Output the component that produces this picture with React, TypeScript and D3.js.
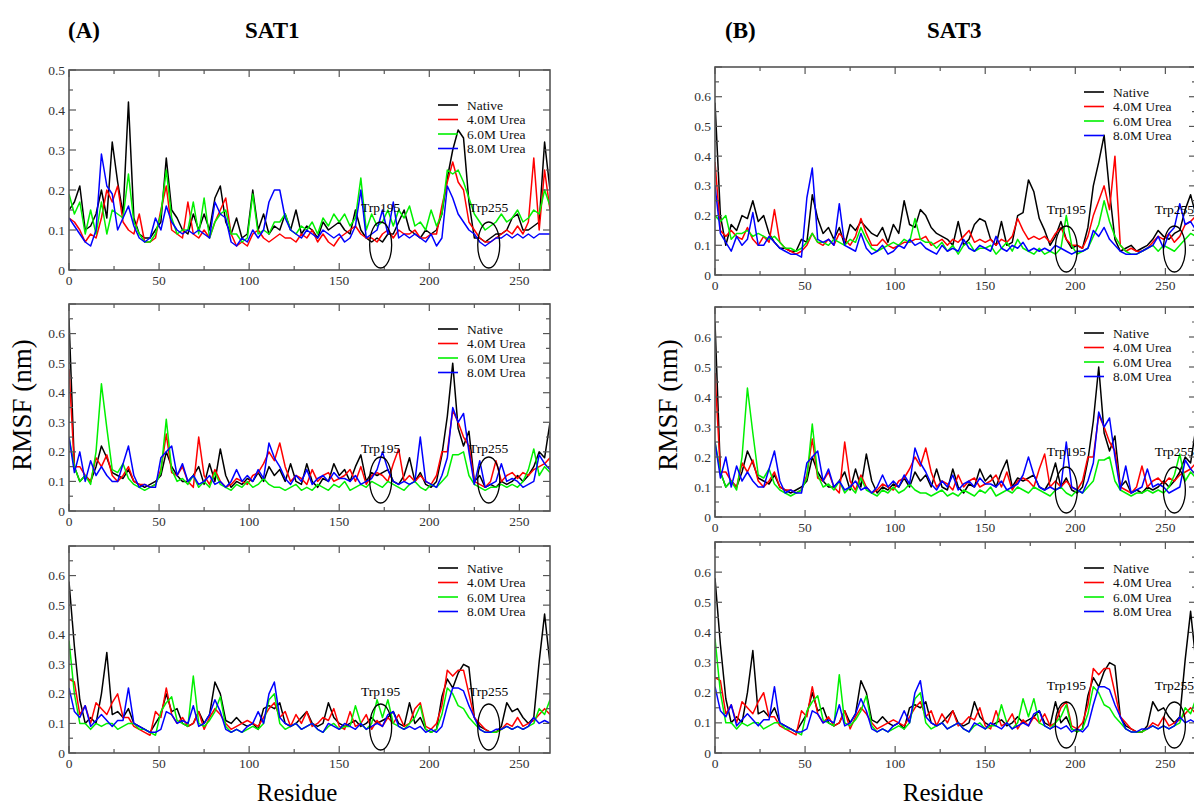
import React from "react";
import * as d3 from "d3";

// Residue positions sampled every 3 residues (0..267)
const residues = d3.range(0, 268, 3);
const seriesNames = ["Native", "4.0M Urea", "6.0M Urea", "8.0M Urea"];
const seriesColors = ["#000000", "#ff0000", "#00f000", "#0000ff"];
const xTicks = [0, 50, 100, 150, 200, 250];
const yTicksTop = [0, 0.1, 0.2, 0.3, 0.4, 0.5];
const yTicks = [0, 0.1, 0.2, 0.3, 0.4, 0.5, 0.6];
const trpLabels = ["Trp195", "Trp255"];
const trpSAT1 = [173, 233];
const trpSAT3 = [195, 255];

// ---- SAT1 top panel ----
const sat1TopNative = [
  0.15, 0.17, 0.21, 0.10, 0.11, 0.14, 0.20, 0.13, 0.32, 0.22,
  0.14, 0.42, 0.13, 0.09, 0.08, 0.08, 0.10, 0.12, 0.28, 0.15,
  0.13, 0.10, 0.09, 0.14, 0.10, 0.14, 0.10, 0.18, 0.21, 0.12,
  0.09, 0.13, 0.08, 0.09, 0.20, 0.10, 0.14, 0.09, 0.11, 0.10,
  0.14, 0.10, 0.15, 0.09, 0.11, 0.10, 0.08, 0.12, 0.10, 0.11,
  0.12, 0.10, 0.09, 0.15, 0.10, 0.08, 0.07, 0.08, 0.07, 0.09,
  0.09, 0.12, 0.15, 0.10, 0.09, 0.08, 0.10, 0.09, 0.10, 0.14,
  0.23, 0.30, 0.35, 0.33, 0.17, 0.08, 0.08, 0.07, 0.08, 0.09,
  0.09, 0.10, 0.13, 0.14, 0.10, 0.10, 0.11, 0.12, 0.32, 0.20,
];
const sat1Top4M = [
  0.13, 0.12, 0.10, 0.07, 0.09, 0.08, 0.13, 0.20, 0.17, 0.21,
  0.12, 0.10, 0.09, 0.14, 0.07, 0.07, 0.08, 0.15, 0.21, 0.10,
  0.09, 0.08, 0.17, 0.09, 0.08, 0.10, 0.08, 0.12, 0.15, 0.18,
  0.09, 0.06, 0.07, 0.06, 0.09, 0.10, 0.08, 0.07, 0.08, 0.09,
  0.08, 0.08, 0.07, 0.09, 0.08, 0.10, 0.07, 0.09, 0.07, 0.06,
  0.08, 0.09, 0.10, 0.11, 0.09, 0.08, 0.08, 0.07, 0.09, 0.10,
  0.08, 0.10, 0.09, 0.09, 0.10, 0.08, 0.08, 0.09, 0.09, 0.16,
  0.22, 0.27, 0.22, 0.20, 0.12, 0.10, 0.08, 0.07, 0.07, 0.08,
  0.09, 0.10, 0.09, 0.11, 0.09, 0.12, 0.28, 0.10, 0.25, 0.15,
];
const sat1Top6M = [
  0.19, 0.14, 0.17, 0.09, 0.15, 0.09, 0.17, 0.09, 0.15, 0.14,
  0.13, 0.24, 0.12, 0.09, 0.07, 0.07, 0.09, 0.14, 0.25, 0.13,
  0.09, 0.10, 0.10, 0.17, 0.09, 0.18, 0.08, 0.12, 0.14, 0.15,
  0.09, 0.09, 0.07, 0.08, 0.19, 0.09, 0.10, 0.09, 0.12, 0.12,
  0.14, 0.10, 0.09, 0.11, 0.10, 0.12, 0.09, 0.13, 0.11, 0.14,
  0.12, 0.14, 0.11, 0.13, 0.23, 0.10, 0.14, 0.11, 0.12, 0.15,
  0.11, 0.15, 0.13, 0.16, 0.11, 0.12, 0.10, 0.15, 0.11, 0.14,
  0.25, 0.24, 0.25, 0.22, 0.18, 0.14, 0.12, 0.10, 0.11, 0.12,
  0.14, 0.12, 0.13, 0.15, 0.12, 0.13, 0.15, 0.14, 0.20, 0.16,
];
const sat1Top8M = [
  0.13, 0.11, 0.09, 0.07, 0.06, 0.10, 0.29, 0.21, 0.19, 0.10,
  0.13, 0.16, 0.11, 0.08, 0.07, 0.08, 0.13, 0.10, 0.16, 0.12,
  0.10, 0.09, 0.10, 0.09, 0.10, 0.09, 0.08, 0.17, 0.14, 0.13,
  0.07, 0.06, 0.08, 0.07, 0.10, 0.08, 0.10, 0.17, 0.20, 0.20,
  0.13, 0.10, 0.09, 0.08, 0.10, 0.09, 0.08, 0.10, 0.09, 0.08,
  0.09, 0.07, 0.08, 0.11, 0.20, 0.08, 0.09, 0.10, 0.15, 0.09,
  0.17, 0.08, 0.09, 0.08, 0.09, 0.08, 0.07, 0.09, 0.06, 0.08,
  0.21, 0.18, 0.14, 0.12, 0.10, 0.09, 0.07, 0.06, 0.07, 0.08,
  0.08, 0.09, 0.08, 0.09, 0.08, 0.09, 0.08, 0.09, 0.09, 0.09,
];

// ---- SAT3 top panel ----
const sat3TopNative = [
  0.58, 0.20, 0.10, 0.17, 0.15, 0.20, 0.19, 0.25, 0.18, 0.20,
  0.14, 0.11, 0.09, 0.09, 0.08, 0.08, 0.12, 0.11, 0.27, 0.19,
  0.14, 0.16, 0.12, 0.16, 0.10, 0.17, 0.15, 0.18, 0.16, 0.14,
  0.13, 0.16, 0.11, 0.17, 0.14, 0.25, 0.17, 0.16, 0.22, 0.20,
  0.16, 0.14, 0.13, 0.12, 0.10, 0.18, 0.10, 0.12, 0.17, 0.19,
  0.18, 0.12, 0.10, 0.18, 0.10, 0.11, 0.20, 0.21, 0.32, 0.28,
  0.19, 0.15, 0.10, 0.13, 0.18, 0.12, 0.09, 0.10, 0.09, 0.16,
  0.30, 0.38, 0.47, 0.28, 0.12, 0.08, 0.09, 0.10, 0.08, 0.09,
  0.10, 0.12, 0.15, 0.13, 0.12, 0.14, 0.15, 0.22, 0.27, 0.20,
];
const sat3Top4M = [
  0.38, 0.15, 0.13, 0.15, 0.13, 0.12, 0.16, 0.12, 0.10, 0.13,
  0.11, 0.22, 0.11, 0.09, 0.08, 0.07, 0.08, 0.10, 0.14, 0.11,
  0.10, 0.12, 0.10, 0.14, 0.12, 0.10, 0.13, 0.19, 0.14, 0.10,
  0.10, 0.12, 0.10, 0.09, 0.10, 0.11, 0.11, 0.12, 0.12, 0.13,
  0.10, 0.11, 0.12, 0.10, 0.12, 0.11, 0.13, 0.15, 0.11, 0.12,
  0.11, 0.12, 0.10, 0.12, 0.11, 0.13, 0.19, 0.15, 0.12, 0.13,
  0.12, 0.13, 0.11, 0.14, 0.16, 0.12, 0.10, 0.10, 0.09, 0.13,
  0.20, 0.25, 0.30, 0.22, 0.40, 0.10, 0.08, 0.09, 0.08, 0.08,
  0.09, 0.11, 0.13, 0.12, 0.14, 0.11, 0.13, 0.17, 0.18, 0.20,
];
const sat3Top6M = [
  0.20, 0.18, 0.20, 0.12, 0.14, 0.14, 0.15, 0.13, 0.14, 0.13,
  0.12, 0.13, 0.11, 0.09, 0.09, 0.08, 0.09, 0.11, 0.14, 0.11,
  0.11, 0.10, 0.12, 0.11, 0.10, 0.12, 0.11, 0.16, 0.12, 0.09,
  0.08, 0.09, 0.10, 0.11, 0.10, 0.12, 0.11, 0.19, 0.12, 0.11,
  0.11, 0.09, 0.11, 0.08, 0.10, 0.07, 0.10, 0.11, 0.08, 0.09,
  0.09, 0.10, 0.07, 0.09, 0.11, 0.08, 0.12, 0.09, 0.08, 0.07,
  0.09, 0.07, 0.08, 0.07, 0.09, 0.20, 0.10, 0.07, 0.08, 0.09,
  0.13, 0.17, 0.25, 0.18, 0.13, 0.10, 0.08, 0.07, 0.07, 0.08,
  0.09, 0.10, 0.08, 0.10, 0.09, 0.08, 0.10, 0.12, 0.14, 0.13,
];
const sat3Top8M = [
  0.30, 0.14, 0.11, 0.08, 0.13, 0.10, 0.12, 0.21, 0.10, 0.10,
  0.13, 0.11, 0.09, 0.08, 0.07, 0.07, 0.06, 0.26, 0.36, 0.12,
  0.11, 0.12, 0.10, 0.24, 0.10, 0.09, 0.08, 0.14, 0.09, 0.07,
  0.08, 0.10, 0.07, 0.08, 0.10, 0.09, 0.12, 0.10, 0.11, 0.09,
  0.08, 0.07, 0.10, 0.08, 0.09, 0.08, 0.12, 0.09, 0.08, 0.10,
  0.09, 0.08, 0.13, 0.09, 0.08, 0.10, 0.09, 0.11, 0.08, 0.09,
  0.08, 0.09, 0.08, 0.10, 0.09, 0.08, 0.07, 0.08, 0.08, 0.09,
  0.15, 0.13, 0.16, 0.12, 0.10, 0.08, 0.07, 0.07, 0.07, 0.08,
  0.09, 0.10, 0.13, 0.09, 0.14, 0.16, 0.24, 0.17, 0.18, 0.15,
];

// ---- Middle panels (same in both columns) ----
const midNative = [
  0.65, 0.15, 0.10, 0.12, 0.10, 0.15, 0.22, 0.18, 0.13, 0.12,
  0.11, 0.14, 0.10, 0.09, 0.08, 0.09, 0.10, 0.12, 0.20, 0.15,
  0.12, 0.10, 0.10, 0.12, 0.15, 0.09, 0.16, 0.10, 0.21, 0.12,
  0.08, 0.10, 0.09, 0.11, 0.10, 0.13, 0.10, 0.15, 0.12, 0.14,
  0.10, 0.16, 0.10, 0.09, 0.16, 0.10, 0.08, 0.11, 0.10, 0.16,
  0.12, 0.14, 0.10, 0.15, 0.19, 0.10, 0.13, 0.12, 0.13, 0.14,
  0.10, 0.09, 0.12, 0.18, 0.10, 0.13, 0.09, 0.08, 0.10, 0.19,
  0.32, 0.50, 0.28, 0.22, 0.27, 0.10, 0.12, 0.08, 0.09, 0.08,
  0.10, 0.09, 0.10, 0.12, 0.10, 0.12, 0.15, 0.20, 0.18, 0.30,
];
const mid4M = [
  0.48, 0.15, 0.15, 0.12, 0.10, 0.18, 0.15, 0.19, 0.12, 0.10,
  0.12, 0.15, 0.10, 0.09, 0.09, 0.08, 0.09, 0.14, 0.26, 0.13,
  0.12, 0.15, 0.10, 0.08, 0.25, 0.12, 0.09, 0.14, 0.10, 0.08,
  0.09, 0.11, 0.10, 0.09, 0.12, 0.13, 0.16, 0.20, 0.17, 0.23,
  0.15, 0.10, 0.12, 0.11, 0.09, 0.14, 0.10, 0.12, 0.13, 0.10,
  0.11, 0.12, 0.14, 0.10, 0.15, 0.09, 0.12, 0.13, 0.12, 0.10,
  0.16, 0.21, 0.10, 0.12, 0.10, 0.12, 0.10, 0.09, 0.12, 0.20,
  0.20, 0.34, 0.30, 0.25, 0.22, 0.10, 0.09, 0.08, 0.10, 0.17,
  0.10, 0.12, 0.13, 0.11, 0.13, 0.12, 0.14, 0.15, 0.16, 0.18,
];
const mid6M = [
  0.25, 0.15, 0.10, 0.12, 0.09, 0.20, 0.43, 0.28, 0.14, 0.13,
  0.16, 0.11, 0.09, 0.08, 0.07, 0.08, 0.09, 0.13, 0.31, 0.14,
  0.10, 0.11, 0.09, 0.12, 0.08, 0.10, 0.08, 0.13, 0.09, 0.08,
  0.07, 0.09, 0.08, 0.10, 0.08, 0.09, 0.11, 0.09, 0.08, 0.08,
  0.07, 0.08, 0.09, 0.07, 0.08, 0.07, 0.09, 0.08, 0.07, 0.09,
  0.08, 0.10, 0.07, 0.08, 0.09, 0.08, 0.10, 0.09, 0.08, 0.10,
  0.09, 0.08, 0.07, 0.09, 0.10, 0.08, 0.07, 0.09, 0.08, 0.10,
  0.12, 0.19, 0.19, 0.20, 0.12, 0.09, 0.08, 0.07, 0.08, 0.08,
  0.09, 0.08, 0.09, 0.08, 0.10, 0.14, 0.21, 0.12, 0.15, 0.13,
];
const mid8M = [
  0.25, 0.13, 0.20, 0.10, 0.17, 0.12, 0.15, 0.12, 0.10, 0.10,
  0.16, 0.22, 0.12, 0.08, 0.09, 0.08, 0.08, 0.18, 0.20, 0.22,
  0.12, 0.16, 0.10, 0.12, 0.09, 0.10, 0.12, 0.09, 0.10, 0.08,
  0.10, 0.14, 0.10, 0.12, 0.10, 0.14, 0.11, 0.23, 0.18, 0.15,
  0.11, 0.09, 0.12, 0.10, 0.14, 0.09, 0.11, 0.12, 0.10, 0.13,
  0.11, 0.11, 0.10, 0.12, 0.09, 0.10, 0.11, 0.14, 0.20, 0.14,
  0.10, 0.09, 0.10, 0.09, 0.10, 0.25, 0.10, 0.09, 0.08, 0.12,
  0.18, 0.35, 0.30, 0.33, 0.20, 0.09, 0.17, 0.08, 0.09, 0.10,
  0.16, 0.10, 0.11, 0.10, 0.08, 0.09, 0.10, 0.19, 0.16, 0.14,
];

// ---- Bottom panels (same in both columns) ----
const botNative = [
  0.58, 0.36, 0.18, 0.10, 0.12, 0.10, 0.20, 0.34, 0.13, 0.14,
  0.12, 0.15, 0.10, 0.09, 0.08, 0.07, 0.10, 0.13, 0.20, 0.14,
  0.15, 0.10, 0.09, 0.10, 0.14, 0.10, 0.13, 0.24, 0.20, 0.11,
  0.10, 0.12, 0.10, 0.09, 0.10, 0.08, 0.15, 0.16, 0.15, 0.17,
  0.10, 0.09, 0.10, 0.12, 0.14, 0.10, 0.09, 0.10, 0.17, 0.12,
  0.10, 0.09, 0.10, 0.11, 0.09, 0.10, 0.12, 0.10, 0.11, 0.12,
  0.14, 0.10, 0.09, 0.17, 0.10, 0.12, 0.08, 0.07, 0.08, 0.19,
  0.25, 0.22, 0.27, 0.30, 0.29, 0.12, 0.09, 0.08, 0.07, 0.07,
  0.09, 0.17, 0.14, 0.15, 0.12, 0.10, 0.12, 0.31, 0.47, 0.30,
];
const bot4M = [
  0.25, 0.24, 0.13, 0.16, 0.10, 0.17, 0.15, 0.13, 0.17, 0.20,
  0.12, 0.12, 0.09, 0.08, 0.07, 0.06, 0.14, 0.12, 0.22, 0.13,
  0.10, 0.12, 0.09, 0.10, 0.14, 0.08, 0.12, 0.15, 0.13, 0.10,
  0.08, 0.09, 0.10, 0.11, 0.10, 0.09, 0.12, 0.15, 0.17, 0.12,
  0.14, 0.09, 0.13, 0.10, 0.14, 0.09, 0.10, 0.12, 0.11, 0.15,
  0.09, 0.08, 0.14, 0.09, 0.10, 0.13, 0.08, 0.11, 0.09, 0.12,
  0.10, 0.13, 0.09, 0.10, 0.15, 0.17, 0.09, 0.08, 0.10, 0.16,
  0.28, 0.26, 0.28, 0.28, 0.20, 0.12, 0.10, 0.08, 0.07, 0.07,
  0.08, 0.10, 0.09, 0.12, 0.09, 0.10, 0.11, 0.13, 0.15, 0.13,
];
const bot6M = [
  0.38, 0.20, 0.10, 0.10, 0.08, 0.10, 0.09, 0.10, 0.10, 0.08,
  0.09, 0.10, 0.10, 0.08, 0.08, 0.07, 0.06, 0.14, 0.17, 0.19,
  0.11, 0.10, 0.09, 0.26, 0.10, 0.09, 0.11, 0.14, 0.19, 0.09,
  0.07, 0.08, 0.07, 0.08, 0.09, 0.08, 0.10, 0.18, 0.20, 0.10,
  0.08, 0.09, 0.10, 0.08, 0.09, 0.10, 0.08, 0.07, 0.09, 0.10,
  0.08, 0.09, 0.09, 0.16, 0.10, 0.08, 0.10, 0.18, 0.12, 0.18,
  0.10, 0.09, 0.08, 0.10, 0.12, 0.16, 0.08, 0.07, 0.08, 0.13,
  0.22, 0.20, 0.16, 0.15, 0.12, 0.10, 0.08, 0.07, 0.07, 0.07,
  0.08, 0.09, 0.08, 0.09, 0.08, 0.09, 0.10, 0.15, 0.13, 0.18,
];
const bot8M = [
  0.22, 0.14, 0.12, 0.16, 0.09, 0.11, 0.13, 0.11, 0.09, 0.11,
  0.11, 0.22, 0.10, 0.09, 0.08, 0.07, 0.07, 0.08, 0.14, 0.13,
  0.10, 0.11, 0.10, 0.16, 0.09, 0.10, 0.13, 0.18, 0.14, 0.08,
  0.07, 0.08, 0.07, 0.09, 0.10, 0.14, 0.10, 0.20, 0.24, 0.12,
  0.10, 0.09, 0.10, 0.08, 0.09, 0.10, 0.08, 0.07, 0.10, 0.09,
  0.08, 0.10, 0.09, 0.08, 0.10, 0.08, 0.09, 0.10, 0.09, 0.13,
  0.14, 0.09, 0.08, 0.09, 0.08, 0.09, 0.07, 0.08, 0.07, 0.09,
  0.16, 0.22, 0.22, 0.21, 0.16, 0.12, 0.08, 0.07, 0.07, 0.08,
  0.08, 0.09, 0.08, 0.09, 0.08, 0.09, 0.12, 0.10, 0.11, 0.10,
];

type PanelCfg = {
  left: number;
  top: number;
  bottom: number;
  ymax: number;
  ticks: number[];
  series: number[][];
  legendDy: number;
  trp: number[];
  ellipseDy: number;
  labelDy: number;
};

const PLOT_W = 481;
const XMAX = 267;
const FONT = "'Liberation Serif', 'Times New Roman', Times, serif";

const panels: PanelCfg[] = [
  { left: 69, top: 70, bottom: 270, ymax: 0.5, ticks: yTicksTop, series: [sat1TopNative, sat1Top4M, sat1Top6M, sat1Top8M], legendDy: 35, trp: trpSAT1, ellipseDy: 25, labelDy: 58 },
  { left: 69, top: 304, bottom: 511, ymax: 0.7, ticks: yTicks, series: [midNative, mid4M, mid6M, mid8M], legendDy: 25, trp: trpSAT1, ellipseDy: 31, labelDy: 58 },
  { left: 69, top: 546, bottom: 753, ymax: 0.7, ticks: yTicks, series: [botNative, bot4M, bot6M, bot8M], legendDy: 22, trp: trpSAT1, ellipseDy: 26, labelDy: 57 },
  { left: 715, top: 67, bottom: 275, ymax: 0.7, ticks: yTicks, series: [sat3TopNative, sat3Top4M, sat3Top6M, sat3Top8M], legendDy: 25, trp: trpSAT3, ellipseDy: 26, labelDy: 61 },
  { left: 715, top: 307, bottom: 517, ymax: 0.7, ticks: yTicks, series: [midNative, mid4M, mid6M, mid8M], legendDy: 26, trp: trpSAT3, ellipseDy: 27, labelDy: 61 },
  { left: 715, top: 542, bottom: 753, ymax: 0.7, ticks: yTicks, series: [botNative, bot4M, bot6M, bot8M], legendDy: 26, trp: trpSAT3, ellipseDy: 28, labelDy: 63 },
];

function Panel({ cfg, idx }: { cfg: PanelCfg; idx: number }) {
  const x = d3.scaleLinear().domain([0, XMAX]).range([cfg.left, cfg.left + PLOT_W]);
  const y = d3.scaleLinear().domain([0, cfg.ymax]).range([cfg.bottom, cfg.top]);
  const line = d3
    .line<number>()
    .x((_, i) => x(residues[i]))
    .y((d) => y(d));
  const clipId = `clip${idx}`;
  const right = cfg.left + PLOT_W;
  const xMinor = d3.range(25, XMAX, 50);
  const yMinor = d3.range(0.05, cfg.ymax, 0.1);
  const yMajor = d3.range(0, cfg.ymax + 0.001, 0.1);
  const frame = "#555";
  return (
    <g>
      <defs>
        <clipPath id={clipId}>
          <rect x={cfg.left} y={cfg.top} width={PLOT_W} height={cfg.bottom - cfg.top} />
        </clipPath>
      </defs>
      <g clipPath={`url(#${clipId})`}>
        {cfg.series.map((s, k) => (
          <path key={k} d={line(s) || ""} fill="none" stroke={seriesColors[k]} strokeWidth={1.5} strokeLinejoin="round" />
        ))}
      </g>
      <rect x={cfg.left} y={cfg.top} width={PLOT_W} height={cfg.bottom - cfg.top} fill="none" stroke={frame} strokeWidth={1.6} />
      {xTicks.map((t) => (
        <g key={"xt" + t}>
          <line x1={x(t)} x2={x(t)} y1={cfg.bottom} y2={cfg.bottom - 7} stroke={frame} strokeWidth={1.2} />
          <line x1={x(t)} x2={x(t)} y1={cfg.top} y2={cfg.top + 7} stroke={frame} strokeWidth={1.2} />
          <text x={x(t)} y={cfg.bottom + 15} textAnchor="middle" fontSize={13.5} fill="#333" fontFamily={FONT}>
            {t}
          </text>
        </g>
      ))}
      {xMinor.map((t) => (
        <g key={"xm" + t}>
          <line x1={x(t)} x2={x(t)} y1={cfg.bottom} y2={cfg.bottom - 4} stroke={frame} strokeWidth={1.2} />
          <line x1={x(t)} x2={x(t)} y1={cfg.top} y2={cfg.top + 4} stroke={frame} strokeWidth={1.2} />
        </g>
      ))}
      {yMajor.map((t) => (
        <g key={"ym" + t}>
          <line x1={cfg.left} x2={cfg.left + 7} y1={y(t)} y2={y(t)} stroke={frame} strokeWidth={1.2} />
          <line x1={right} x2={right - 7} y1={y(t)} y2={y(t)} stroke={frame} strokeWidth={1.2} />
        </g>
      ))}
      {yMinor.map((t) => (
        <g key={"yn" + t}>
          <line x1={cfg.left} x2={cfg.left + 4} y1={y(t)} y2={y(t)} stroke={frame} strokeWidth={1.2} />
          <line x1={right} x2={right - 4} y1={y(t)} y2={y(t)} stroke={frame} strokeWidth={1.2} />
        </g>
      ))}
      {cfg.ticks.map((t) => (
        <text key={"yl" + t} x={cfg.left - 4} y={y(t) + 4.5} textAnchor="end" fontSize={13.5} fill="#333" fontFamily={FONT}>
          {t === 0 ? "0" : t.toFixed(1)}
        </text>
      ))}
      {seriesNames.map((n, k) => {
        const ly = cfg.top + cfg.legendDy + k * 14.5;
        const lx = cfg.left + 369;
        return (
          <g key={n}>
            <line x1={lx} x2={lx + 20} y1={ly} y2={ly} stroke={seriesColors[k]} strokeWidth={1.6} />
            <text x={lx + 29} y={ly + 4.5} fontSize={13.5} fill="#111" fontFamily={FONT}>
              {n}
            </text>
          </g>
        );
      })}
      {cfg.trp.map((r, k) => (
        <g key={"trp" + k}>
          <ellipse cx={x(r)} cy={cfg.bottom - cfg.ellipseDy} rx={11} ry={23} fill="none" stroke="#000" strokeWidth={1.3} />
          <text x={x(r)} y={cfg.bottom - cfg.labelDy} textAnchor="middle" fontSize={13.5} fill="#000" fontFamily={FONT}>
            {trpLabels[k]}
          </text>
        </g>
      ))}
    </g>
  );
}

export default function App() {
  return (
    <svg
      width={1194}
      height={809}
      style={{ position: "absolute", left: 0, top: 0, background: "#fff" }}
      fontFamily={FONT}
    >
      <rect x={0} y={0} width={1194} height={809} fill="#fff" />
      {panels.map((p, i) => (
        <Panel key={i} cfg={p} idx={i} />
      ))}
      <text x={68} y={38} fontSize={23} fontWeight="bold" fill="#000">(A)</text>
      <text x={245} y={38} fontSize={23} fontWeight="bold" fill="#000">SAT1</text>
      <text x={725} y={38} fontSize={23} fontWeight="bold" fill="#000">(B)</text>
      <text x={927} y={38} fontSize={23} fontWeight="bold" fill="#000">SAT3</text>
      <text transform="translate(31,405) rotate(-90)" textAnchor="middle" fontSize={27} fill="#000">RMSF (nm)</text>
      <text transform="translate(677,405) rotate(-90)" textAnchor="middle" fontSize={27} fill="#000">RMSF (nm)</text>
      <text x={297} y={801} textAnchor="middle" fontSize={25} fill="#000">Residue</text>
      <text x={943} y={801} textAnchor="middle" fontSize={25} fill="#000">Residue</text>
    </svg>
  );
}
